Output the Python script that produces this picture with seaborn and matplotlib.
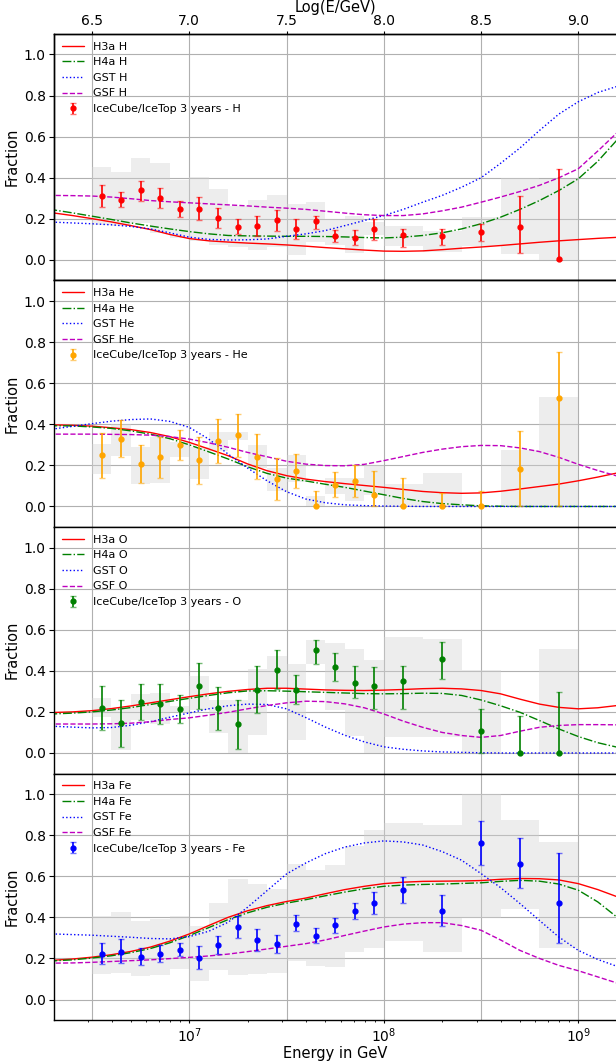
import numpy as np
import matplotlib
matplotlib.use("Agg")
import matplotlib.pyplot as plt
import seaborn as sns

# ---- binning (log10 E/GeV) ----
bin_logE = [6.55, 6.65, 6.75, 6.85, 6.95, 7.05, 7.15, 7.25, 7.35, 7.45,
            7.55, 7.65, 7.75, 7.85, 7.95, 8.1, 8.3, 8.5, 8.7, 8.9]
bin_lo = [6.5, 6.6, 6.7, 6.8, 6.9, 7.0, 7.1, 7.2, 7.3, 7.4,
          7.5, 7.6, 7.7, 7.8, 7.9, 8.0, 8.2, 8.4, 8.6, 8.8]
bin_hi = [6.6, 6.7, 6.8, 6.9, 7.0, 7.1, 7.2, 7.3, 7.4, 7.5,
          7.6, 7.7, 7.8, 7.9, 8.0, 8.2, 8.4, 8.6, 8.8, 9.0]

# ---- IceCube/IceTop 3 years ----
h_frac = [0.310, 0.294, 0.338, 0.300, 0.248, 0.248, 0.204, 0.161, 0.163, 0.192,
          0.151, 0.188, 0.115, 0.107, 0.151, 0.119, 0.115, 0.135, 0.160, 0.004]
h_lo = [0.260, 0.257, 0.289, 0.255, 0.210, 0.195, 0.156, 0.125, 0.115, 0.143,
        0.102, 0.151, 0.086, 0.073, 0.098, 0.063, 0.075, 0.091, 0.034, 0.0]
h_hi = [0.366, 0.333, 0.385, 0.348, 0.286, 0.305, 0.252, 0.198, 0.213, 0.245,
        0.198, 0.215, 0.146, 0.146, 0.200, 0.153, 0.149, 0.176, 0.309, 0.442]
h_sys_lo = [0.170, 0.163, 0.182, 0.132, 0.109, 0.090, 0.072, 0.062, 0.050, 0.065,
            0.024, 0.086, 0.075, 0.034, 0.119, 0.070, 0.041, 0.070, 0.028, 0.0]
h_sys_hi = [0.450, 0.426, 0.494, 0.470, 0.389, 0.402, 0.346, 0.263, 0.294, 0.315,
            0.270, 0.280, 0.197, 0.213, 0.187, 0.167, 0.143, 0.207, 0.398, 0.392]

he_frac = [0.249, 0.330, 0.207, 0.242, 0.300, 0.226, 0.317, 0.348, 0.242, 0.132,
           0.172, 0.003, 0.106, 0.124, 0.057, 0.003, 0.0, 0.0, 0.184, 0.529]
he_lo = [0.139, 0.241, 0.114, 0.140, 0.228, 0.109, 0.212, 0.242, 0.132, 0.031,
         0.090, 0.0, 0.044, 0.044, 0.0, 0.0, 0.0, 0.0, 0.0, 0.0]
he_hi = [0.358, 0.420, 0.300, 0.337, 0.371, 0.337, 0.424, 0.451, 0.354, 0.234,
         0.256, 0.075, 0.166, 0.200, 0.171, 0.139, 0.067, 0.077, 0.366, 0.751]
he_sys_lo = [0.156, 0.244, 0.107, 0.116, 0.241, 0.132, 0.268, 0.324, 0.185, 0.077,
             0.119, 0.0, 0.060, 0.028, 0.057, 0.0, 0.0, 0.0, 0.0, 0.0]
he_sys_hi = [0.304, 0.402, 0.291, 0.337, 0.312, 0.288, 0.361, 0.364, 0.301, 0.187,
             0.252, 0.052, 0.137, 0.137, 0.200, 0.111, 0.164, 0.0, 0.275, 0.532]

o_frac = [0.219, 0.146, 0.250, 0.240, 0.215, 0.325, 0.218, 0.140, 0.307, 0.406,
          0.308, 0.502, 0.420, 0.343, 0.325, 0.350, 0.457, 0.107, 0.0, 0.0]
o_lo = [0.114, 0.029, 0.159, 0.141, 0.145, 0.213, 0.114, 0.018, 0.193, 0.311,
        0.236, 0.431, 0.351, 0.268, 0.215, 0.215, 0.358, 0.0, 0.0, 0.0]
o_hi = [0.325, 0.257, 0.337, 0.337, 0.283, 0.439, 0.320, 0.259, 0.423, 0.501,
        0.380, 0.550, 0.489, 0.421, 0.420, 0.424, 0.541, 0.213, 0.180, 0.298]
o_sys_lo = [0.177, 0.016, 0.161, 0.141, 0.195, 0.210, 0.096, 0.0, 0.089, 0.310,
            0.065, 0.431, 0.211, 0.083, 0.0, 0.076, 0.076, 0.0, 0.0, 0.0]
o_sys_hi = [0.270, 0.218, 0.285, 0.294, 0.229, 0.377, 0.260, 0.260, 0.411, 0.470,
            0.432, 0.551, 0.537, 0.504, 0.452, 0.563, 0.554, 0.403, 0.0, 0.506]

fe_frac = [0.223, 0.233, 0.205, 0.223, 0.241, 0.202, 0.263, 0.355, 0.288, 0.270,
           0.369, 0.311, 0.361, 0.431, 0.468, 0.532, 0.433, 0.761, 0.659, 0.472]
fe_lo = [0.173, 0.178, 0.166, 0.182, 0.212, 0.150, 0.221, 0.301, 0.234, 0.228,
         0.332, 0.275, 0.324, 0.392, 0.415, 0.472, 0.359, 0.656, 0.545, 0.275]
fe_hi = [0.273, 0.293, 0.249, 0.265, 0.273, 0.260, 0.307, 0.407, 0.341, 0.312,
         0.412, 0.346, 0.399, 0.468, 0.524, 0.597, 0.509, 0.870, 0.787, 0.714]
fe_sys_lo = [0.122, 0.127, 0.112, 0.120, 0.148, 0.088, 0.146, 0.120, 0.122, 0.130,
             0.187, 0.161, 0.156, 0.229, 0.251, 0.283, 0.233, 0.397, 0.440, 0.251]
fe_sys_hi = [0.405, 0.426, 0.380, 0.390, 0.407, 0.360, 0.472, 0.587, 0.564, 0.540,
             0.660, 0.628, 0.657, 0.748, 0.823, 0.860, 0.847, 1.000, 0.875, 0.769]

# ---- model predictions, log10(E/GeV) = 6.2 ... 9.2 in steps of 0.1 ----
model_logE = [6.2, 6.3, 6.4, 6.5, 6.6, 6.7, 6.8, 6.9, 7.0, 7.1,
              7.2, 7.3, 7.4, 7.5, 7.6, 7.7, 7.8, 7.9, 8.0, 8.1,
              8.2, 8.3, 8.4, 8.5, 8.6, 8.7, 8.8, 8.9, 9.0, 9.1, 9.2]

h3a_h = [0.238, 0.229, 0.216, 0.201, 0.185, 0.167, 0.148, 0.124, 0.104, 0.093,
         0.087, 0.082, 0.078, 0.073, 0.067, 0.060, 0.054, 0.048, 0.043, 0.042,
         0.044, 0.050, 0.057, 0.063, 0.070, 0.078, 0.086, 0.093, 0.099, 0.105, 0.110]
h4a_h = [0.254, 0.244, 0.229, 0.213, 0.197, 0.180, 0.165, 0.151, 0.138, 0.127,
         0.119, 0.117, 0.116, 0.115, 0.115, 0.114, 0.112, 0.109, 0.107, 0.111,
         0.119, 0.132, 0.151, 0.176, 0.208, 0.246, 0.289, 0.338, 0.395, 0.480, 0.585]
gst_h = [0.187, 0.184, 0.180, 0.176, 0.171, 0.163, 0.151, 0.132, 0.111, 0.100,
         0.097, 0.098, 0.102, 0.115, 0.127, 0.143, 0.167, 0.192, 0.216, 0.246,
         0.281, 0.314, 0.354, 0.400, 0.470, 0.545, 0.630, 0.710, 0.770, 0.815, 0.845]
gsf_h = [0.316, 0.314, 0.313, 0.311, 0.306, 0.298, 0.289, 0.283, 0.278, 0.273,
         0.268, 0.263, 0.257, 0.252, 0.246, 0.237, 0.228, 0.220, 0.216, 0.216,
         0.224, 0.239, 0.257, 0.281, 0.306, 0.333, 0.363, 0.400, 0.444, 0.530, 0.620]

h3a_he = [0.398, 0.397, 0.395, 0.391, 0.383, 0.374, 0.360, 0.340, 0.312, 0.280,
          0.247, 0.207, 0.174, 0.150, 0.133, 0.121, 0.111, 0.102, 0.093, 0.083,
          0.073, 0.067, 0.064, 0.066, 0.074, 0.085, 0.097, 0.109, 0.125, 0.143, 0.163]
h4a_he = [0.393, 0.393, 0.392, 0.387, 0.380, 0.368, 0.352, 0.330, 0.300, 0.266,
          0.231, 0.193, 0.161, 0.138, 0.124, 0.108, 0.093, 0.075, 0.057, 0.039,
          0.024, 0.014, 0.008, 0.003, 0.001, 0.0, 0.0, 0.0, 0.0, 0.0, 0.0]
gst_he = [0.365, 0.377, 0.390, 0.403, 0.415, 0.423, 0.426, 0.414, 0.385, 0.328,
          0.255, 0.187, 0.125, 0.072, 0.036, 0.018, 0.008, 0.004, 0.002, 0.001,
          0.0, 0.0, 0.0, 0.0, 0.0, 0.0, 0.0, 0.0, 0.0, 0.0, 0.0]
gsf_he = [0.352, 0.352, 0.352, 0.352, 0.351, 0.350, 0.347, 0.340, 0.328, 0.310,
          0.288, 0.263, 0.242, 0.220, 0.206, 0.199, 0.198, 0.205, 0.223, 0.243,
          0.263, 0.279, 0.291, 0.297, 0.296, 0.285, 0.267, 0.239, 0.205, 0.175, 0.148]

h3a_o = [0.192, 0.197, 0.200, 0.206, 0.216, 0.229, 0.244, 0.259, 0.274, 0.288,
         0.300, 0.309, 0.315, 0.315, 0.311, 0.307, 0.305, 0.304, 0.306, 0.309,
         0.313, 0.315, 0.312, 0.304, 0.288, 0.262, 0.238, 0.222, 0.215, 0.220, 0.231]
h4a_o = [0.183, 0.190, 0.194, 0.200, 0.209, 0.221, 0.236, 0.251, 0.266, 0.280,
         0.293, 0.302, 0.303, 0.301, 0.298, 0.295, 0.292, 0.289, 0.288, 0.289,
         0.291, 0.290, 0.280, 0.258, 0.230, 0.198, 0.158, 0.117, 0.080, 0.050, 0.028]
gst_o = [0.132, 0.130, 0.126, 0.122, 0.124, 0.135, 0.152, 0.174, 0.195, 0.215,
         0.230, 0.238, 0.236, 0.215, 0.172, 0.126, 0.086, 0.054, 0.030, 0.018,
         0.010, 0.005, 0.003, 0.001, 0.0, 0.0, 0.0, 0.0, 0.0, 0.0, 0.0]
gsf_o = [0.142, 0.141, 0.141, 0.141, 0.142, 0.145, 0.152, 0.163, 0.171, 0.184,
         0.198, 0.215, 0.231, 0.244, 0.252, 0.250, 0.239, 0.220, 0.190, 0.155,
         0.125, 0.100, 0.085, 0.076, 0.085, 0.106, 0.125, 0.134, 0.138, 0.138, 0.137]

h3a_fe = [0.185, 0.191, 0.197, 0.206, 0.218, 0.234, 0.255, 0.284, 0.319, 0.360,
          0.400, 0.432, 0.457, 0.477, 0.494, 0.515, 0.535, 0.551, 0.564, 0.571,
          0.575, 0.576, 0.577, 0.579, 0.585, 0.589, 0.588, 0.582, 0.564, 0.535, 0.500]
h4a_fe = [0.183, 0.188, 0.193, 0.202, 0.213, 0.228, 0.248, 0.276, 0.311, 0.350,
          0.389, 0.422, 0.449, 0.469, 0.486, 0.505, 0.523, 0.539, 0.551, 0.557,
          0.560, 0.562, 0.565, 0.568, 0.575, 0.580, 0.576, 0.562, 0.532, 0.475, 0.400]
gst_fe = [0.322, 0.319, 0.316, 0.313, 0.308, 0.303, 0.297, 0.295, 0.306, 0.332,
          0.376, 0.449, 0.530, 0.611, 0.665, 0.710, 0.742, 0.762, 0.772, 0.767,
          0.752, 0.720, 0.678, 0.613, 0.545, 0.467, 0.385, 0.304, 0.239, 0.195, 0.161]
gsf_fe = [0.176, 0.177, 0.178, 0.181, 0.185, 0.189, 0.193, 0.199, 0.205, 0.212,
          0.221, 0.233, 0.246, 0.259, 0.272, 0.290, 0.312, 0.333, 0.353, 0.367,
          0.374, 0.374, 0.360, 0.337, 0.290, 0.239, 0.200, 0.166, 0.140, 0.110, 0.080]

top_ticks = [6.5, 7.0, 7.5, 8.0, 8.5, 9.0]
y_ticks = [0.0, 0.2, 0.4, 0.6, 0.8, 1.0]

panels = [
	("H", "red", (h_frac, h_lo, h_hi, h_sys_lo, h_sys_hi), (h3a_h, h4a_h, gst_h, gsf_h)),
	("He", "orange", (he_frac, he_lo, he_hi, he_sys_lo, he_sys_hi), (h3a_he, h4a_he, gst_he, gsf_he)),
	("O", "green", (o_frac, o_lo, o_hi, o_sys_lo, o_sys_hi), (h3a_o, h4a_o, gst_o, gsf_o)),
	("Fe", "blue", (fe_frac, fe_lo, fe_hi, fe_sys_lo, fe_sys_hi), (h3a_fe, h4a_fe, gst_fe, gsf_fe)),
]
model_names = ["H3a", "H4a", "GST", "GSF"]
model_colors = ["red", "green", "blue", "m"]
model_styles = ["-", "-.", ":", "--"]

sns.set_style("ticks")
plt.rcParams.update({
	"font.family": ["DejaVu Sans"],
	"axes.edgecolor": "black",
	"text.color": "black",
	"axes.labelcolor": "black",
	"xtick.color": "black",
	"ytick.color": "black",
	"xtick.labelsize": 10,
	"ytick.labelsize": 10,
	"axes.labelsize": 10.5,
	"legend.fontsize": 8,
	"axes.linewidth": 1.0,
	"xtick.major.size": 2.5,
	"xtick.minor.size": 1.5,
	"xtick.major.pad": 2,
	"ytick.major.pad": 2.5,
})

fig, axes = plt.subplots(4, 1, figsize=(6.16, 10.61), dpi=100, sharex=True)
fig.subplots_adjust(left=0.0877, right=1.002, top=0.968, bottom=0.0386, hspace=0)

x_min, x_max = 10 ** 6.305, 10 ** 9.2
E_bins = 10 ** np.array(bin_logE)
E_lo = 10 ** np.array(bin_lo)
E_hi = 10 ** np.array(bin_hi)
E_model = 10 ** np.array(model_logE)

for ax, (el, col, data, models) in zip(axes, panels):
	frac, lo, hi, s_lo, s_hi = [np.array(d) for d in data]

	ax.set_xscale("log")
	ax.set_xlim(x_min, x_max)
	ax.set_ylim(-0.1, 1.1)
	ax.set_yticks(y_ticks)
	ax.grid(axis="y", color="#b0b0b0", lw=0.8, zorder=0)
	for t in top_ticks:
		ax.axvline(10 ** t, color="#b0b0b0", lw=0.8, zorder=0)

	# systematic boxes
	ax.bar(E_lo, s_hi - s_lo, width=E_hi - E_lo, bottom=s_lo, align="edge",
	       color="lightgray", alpha=0.4, linewidth=0, zorder=1)

	for name, mc, ls, vals in zip(model_names, model_colors, model_styles, models):
		sns.lineplot(x=E_model, y=vals, ax=ax, color=mc, linestyle=ls, linewidth=1.0,
		             label=f"{name} {el}", zorder=2)

	eb = ax.errorbar(E_bins, frac, yerr=[frac - lo, hi - frac], fmt="o", color=col,
	                 ms=3.5, capsize=2, elinewidth=1.2, capthick=1.0, zorder=3,
	                 label=f"IceCube/IceTop 3 years - {el}")
	for cap in eb[1]:
		cap.set_alpha(0.55)

	ax.set_ylabel("Fraction", labelpad=3)
	ax.legend(loc="upper left", frameon=False, borderaxespad=0.3)
	ax.tick_params(axis="x", which="both", bottom=False, labelbottom=False)

axes[-1].tick_params(axis="x", which="both", bottom=True, labelbottom=True)
axes[-1].set_xlabel("Energy in GeV", labelpad=1)

# top axis in log10(E)
top = axes[0].twiny()
top.set_xlim(np.log10(x_min), np.log10(x_max))
top.set_xticks(top_ticks)
top.tick_params(axis="x", length=2.5, pad=2)
top.set_xlabel("Log(E/GeV)", labelpad=1)

fig.savefig("out.png", dpi=100)
